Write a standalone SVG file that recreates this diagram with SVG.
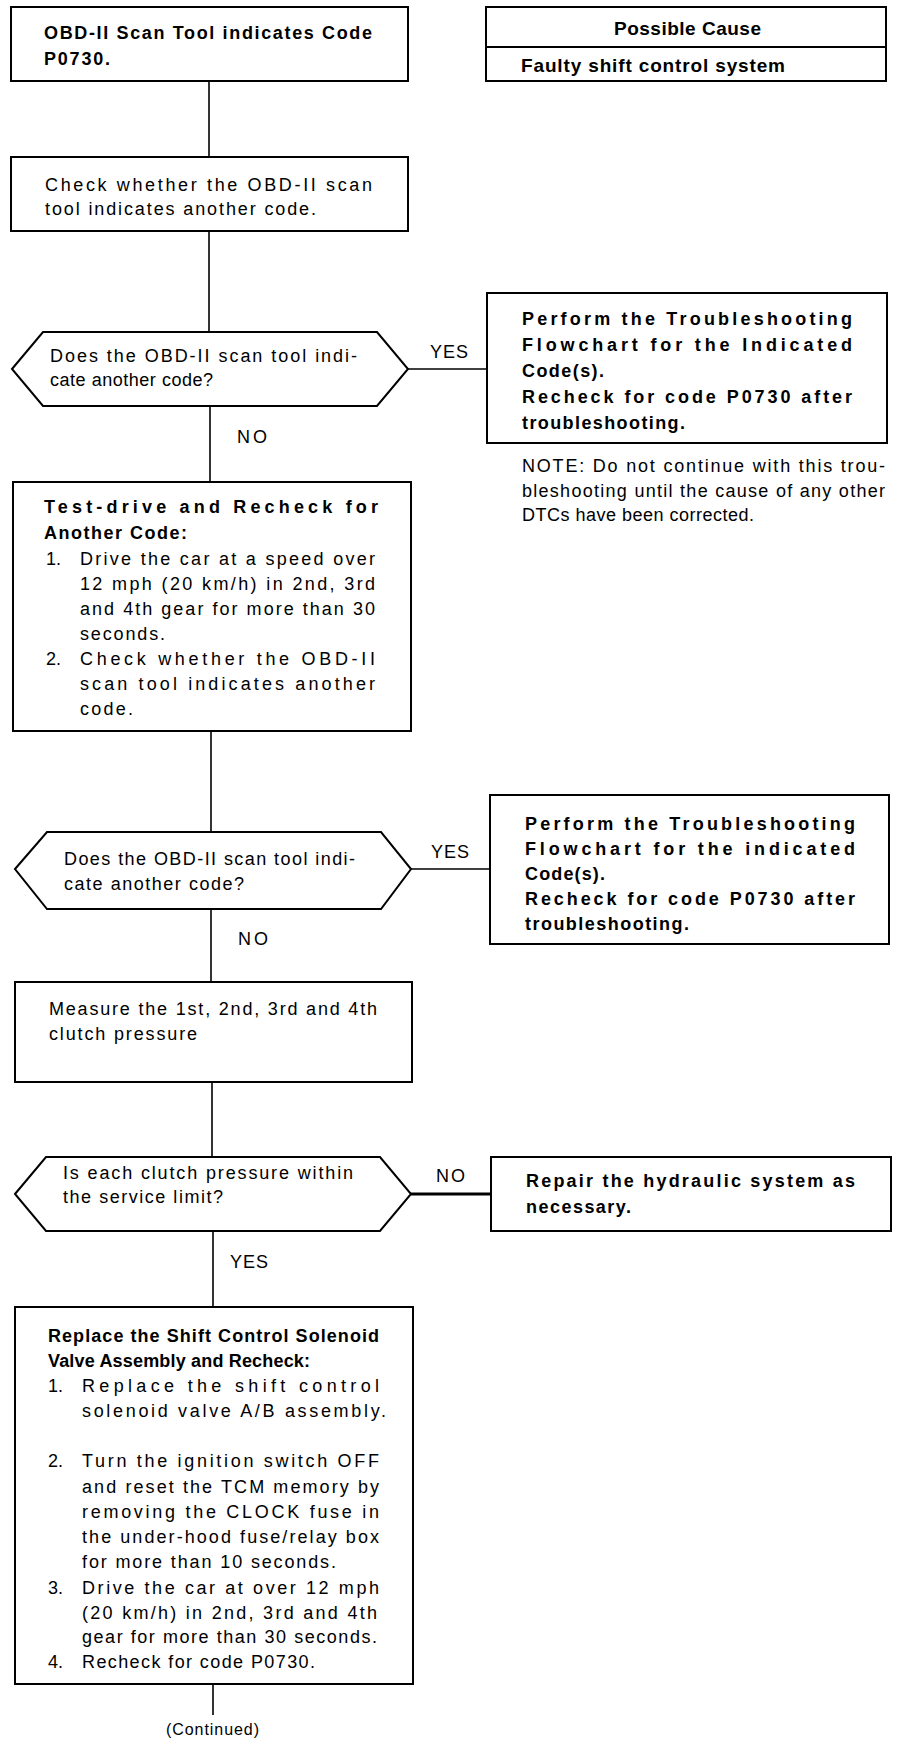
<svg xmlns="http://www.w3.org/2000/svg" width="912" height="1744" viewBox="0 0 912 1744">
<style>
.bx{fill:#fff;stroke:#000;stroke-width:2}
.cn{fill:none;stroke:#000;stroke-width:1.6}
.t{font-family:"Liberation Sans",Arial,sans-serif;font-size:18px;fill:#000}
.tb{font-family:"Liberation Sans",Arial,sans-serif;font-size:18px;font-weight:bold;fill:#000}
.pc{font-family:"Liberation Sans",Arial,sans-serif;font-size:19px;font-weight:bold;fill:#000}
.sm{font-family:"Liberation Sans",Arial,sans-serif;font-size:16px;fill:#000}
</style>
<rect width="912" height="1744" fill="#fff"/>
<g id="connectors">
<line class="cn" x1="209" y1="81" x2="209" y2="157"/>
<line class="cn" x1="209" y1="231" x2="209" y2="332"/>
<line class="cn" x1="210" y1="406" x2="210" y2="482"/>
<line class="cn" x1="408" y1="369" x2="487" y2="369"/>
<line class="cn" x1="211" y1="731" x2="211" y2="832"/>
<line class="cn" x1="411" y1="869" x2="490" y2="869"/>
<line class="cn" x1="211" y1="909" x2="211" y2="982"/>
<line class="cn" x1="212" y1="1082" x2="212" y2="1157"/>
<line class="cn" x1="411" y1="1194" x2="491" y2="1194" style="stroke-width:3"/>
<line class="cn" x1="213" y1="1231" x2="213" y2="1307"/>
<line class="cn" x1="213" y1="1684" x2="213" y2="1715"/>
<text class="t" x="430" y="358" textLength="38" lengthAdjust="spacing">YES</text>
<text class="t" x="237" y="443" textLength="30" lengthAdjust="spacing">NO</text>
<text class="t" x="431" y="858" textLength="38" lengthAdjust="spacing">YES</text>
<text class="t" x="238" y="945" textLength="30" lengthAdjust="spacing">NO</text>
<text class="t" x="436" y="1182" textLength="29" lengthAdjust="spacing">NO</text>
<text class="t" x="230" y="1268" textLength="38" lengthAdjust="spacing">YES</text>
<text class="sm" x="166" y="1735" textLength="93" lengthAdjust="spacing">(Continued)</text>
</g>
<g id="start">
<rect class="bx" x="11" y="7" width="397" height="74"/>
<text class="tb" x="44" y="39" textLength="328" lengthAdjust="spacing">OBD-II Scan Tool indicates Code</text>
<text class="tb" x="44" y="65" textLength="66" lengthAdjust="spacing">P0730.</text>
</g>
<g id="possible-cause">
<rect class="bx" x="486" y="7" width="400" height="74"/>
<line class="bx" x1="486" y1="47" x2="886" y2="47"/>
<text class="pc" x="614" y="35" textLength="147" lengthAdjust="spacing">Possible Cause</text>
<text class="pc" x="521" y="72" textLength="264" lengthAdjust="spacing">Faulty shift control system</text>
</g>
<g id="check-code">
<rect class="bx" x="11" y="157" width="397" height="74"/>
<text class="t" x="45" y="191" textLength="327" lengthAdjust="spacing">Check whether the OBD-II scan</text>
<text class="t" x="45" y="215" textLength="271" lengthAdjust="spacing">tool indicates another code.</text>
</g>
<g id="decision-1">
<polygon class="bx" points="12,369 43,332 377,332 408,369 377,406 43,406"/>
<text class="t" x="50" y="362" textLength="307" lengthAdjust="spacing">Does the OBD-II scan tool indi-</text>
<text class="t" x="50" y="386" textLength="163" lengthAdjust="spacing">cate another code?</text>
</g>
<g id="perform-1">
<rect class="bx" x="487" y="293" width="400" height="150"/>
<text class="tb" x="522" y="325" textLength="330" lengthAdjust="spacing">Perform the Troubleshooting</text>
<text class="tb" x="522" y="351" textLength="330" lengthAdjust="spacing">Flowchart for the Indicated</text>
<text class="tb" x="522" y="377" textLength="82" lengthAdjust="spacing">Code(s).</text>
<text class="tb" x="522" y="403" textLength="330" lengthAdjust="spacing">Recheck for code P0730 after</text>
<text class="tb" x="522" y="429" textLength="163" lengthAdjust="spacing">troubleshooting.</text>
</g>
<g id="note">
<text class="t" x="522" y="472" textLength="363" lengthAdjust="spacing">NOTE: Do not continue with this trou-</text>
<text class="t" x="522" y="497" textLength="363" lengthAdjust="spacing">bleshooting until the cause of any other</text>
<text class="t" x="522" y="521" textLength="232" lengthAdjust="spacing">DTCs have been corrected.</text>
</g>
<g id="test-drive">
<rect class="bx" x="13" y="482" width="398" height="249"/>
<text class="tb" x="44" y="513" textLength="334" lengthAdjust="spacing">Test-drive and Recheck for</text>
<text class="tb" x="44" y="539" textLength="143" lengthAdjust="spacing">Another Code:</text>
<text class="t" x="46" y="565">1.</text>
<text class="t" x="80" y="565" textLength="295" lengthAdjust="spacing">Drive the car at a speed over</text>
<text class="t" x="80" y="590" textLength="295" lengthAdjust="spacing">12 mph (20 km/h) in 2nd, 3rd</text>
<text class="t" x="80" y="615" textLength="295" lengthAdjust="spacing">and 4th gear for more than 30</text>
<text class="t" x="80" y="640" textLength="85" lengthAdjust="spacing">seconds.</text>
<text class="t" x="46" y="665">2.</text>
<text class="t" x="80" y="665" textLength="295" lengthAdjust="spacing">Check whether the OBD-II</text>
<text class="t" x="80" y="690" textLength="295" lengthAdjust="spacing">scan tool indicates another</text>
<text class="t" x="80" y="715" textLength="53" lengthAdjust="spacing">code.</text>
</g>
<g id="decision-2">
<polygon class="bx" points="15,869 47,832 381,832 411,869 381,909 47,909"/>
<text class="t" x="64" y="865" textLength="291" lengthAdjust="spacing">Does the OBD-II scan tool indi-</text>
<text class="t" x="64" y="890" textLength="180" lengthAdjust="spacing">cate another code?</text>
</g>
<g id="perform-2">
<rect class="bx" x="490" y="795" width="399" height="149"/>
<text class="tb" x="525" y="830" textLength="330" lengthAdjust="spacing">Perform the Troubleshooting</text>
<text class="tb" x="525" y="855" textLength="330" lengthAdjust="spacing">Flowchart for the indicated</text>
<text class="tb" x="525" y="880" textLength="80" lengthAdjust="spacing">Code(s).</text>
<text class="tb" x="525" y="905" textLength="330" lengthAdjust="spacing">Recheck for code P0730 after</text>
<text class="tb" x="525" y="930" textLength="164" lengthAdjust="spacing">troubleshooting.</text>
</g>
<g id="measure">
<rect class="bx" x="15" y="982" width="397" height="100"/>
<text class="t" x="49" y="1015" textLength="328" lengthAdjust="spacing">Measure the 1st, 2nd, 3rd and 4th</text>
<text class="t" x="49" y="1040" textLength="148" lengthAdjust="spacing">clutch pressure</text>
</g>
<g id="decision-3">
<polygon class="bx" points="15,1194 46,1157 380,1157 411,1194 380,1231 46,1231"/>
<text class="t" x="63" y="1179" textLength="290" lengthAdjust="spacing">Is each clutch pressure within</text>
<text class="t" x="63" y="1203" textLength="160" lengthAdjust="spacing">the service limit?</text>
</g>
<g id="repair">
<rect class="bx" x="491" y="1157" width="400" height="74"/>
<text class="tb" x="526" y="1187" textLength="329" lengthAdjust="spacing">Repair the hydraulic system as</text>
<text class="tb" x="526" y="1213" textLength="105" lengthAdjust="spacing">necessary.</text>
</g>
<g id="replace">
<rect class="bx" x="15" y="1307" width="398" height="377"/>
<text class="tb" x="48" y="1342" textLength="331" lengthAdjust="spacing">Replace the Shift Control Solenoid</text>
<text class="tb" x="48" y="1367" textLength="262" lengthAdjust="spacing">Valve Assembly and Recheck:</text>
<text class="t" x="48" y="1392">1.</text>
<text class="t" x="82" y="1392" textLength="297" lengthAdjust="spacing">Replace the shift control</text>
<text class="t" x="82" y="1417" textLength="304" lengthAdjust="spacing">solenoid valve A/B assembly.</text>
<text class="t" x="48" y="1467">2.</text>
<text class="t" x="82" y="1467" textLength="297" lengthAdjust="spacing">Turn the ignition switch OFF</text>
<text class="t" x="82" y="1493" textLength="297" lengthAdjust="spacing">and reset the TCM memory by</text>
<text class="t" x="82" y="1518" textLength="297" lengthAdjust="spacing">removing the CLOCK fuse in</text>
<text class="t" x="82" y="1543" textLength="297" lengthAdjust="spacing">the under-hood fuse/relay box</text>
<text class="t" x="82" y="1568" textLength="254" lengthAdjust="spacing">for more than 10 seconds.</text>
<text class="t" x="48" y="1594">3.</text>
<text class="t" x="82" y="1594" textLength="297" lengthAdjust="spacing">Drive the car at over 12 mph</text>
<text class="t" x="82" y="1619" textLength="295" lengthAdjust="spacing">(20 km/h) in 2nd, 3rd and 4th</text>
<text class="t" x="82" y="1643" textLength="295" lengthAdjust="spacing">gear for more than 30 seconds.</text>
<text class="t" x="48" y="1668">4.</text>
<text class="t" x="82" y="1668" textLength="233" lengthAdjust="spacing">Recheck for code P0730.</text>
</g>
</svg>
